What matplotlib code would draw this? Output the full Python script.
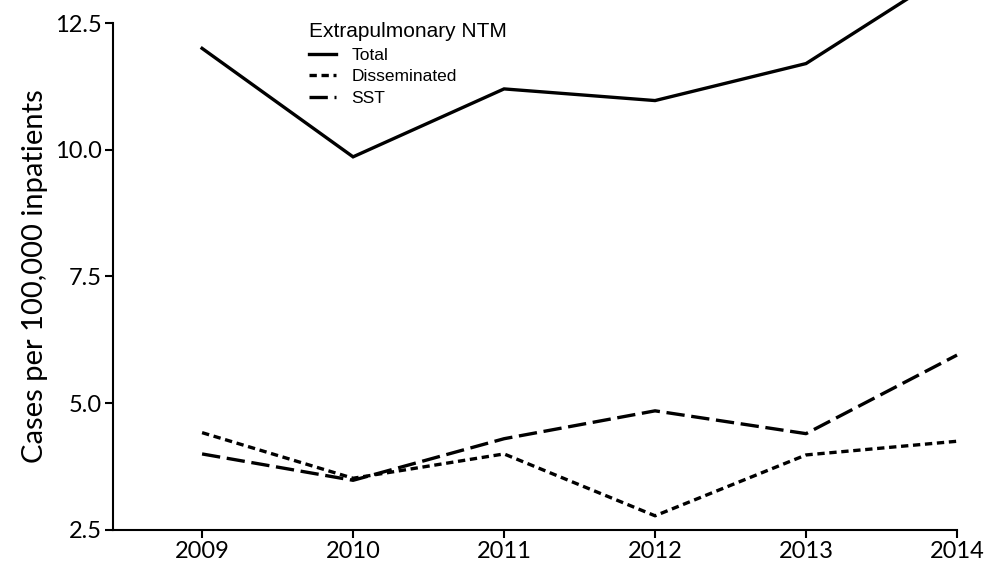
import matplotlib
matplotlib.use('Agg')
import matplotlib.pyplot as plt

# 数据
years = [2009, 2010, 2011, 2012, 2013, 2014]
total = [12.0, 9.86, 11.2, 10.97, 11.7, 13.6]
disseminated = [4.42, 3.52, 4.0, 2.78, 3.98, 4.25]
sst = [4.0, 3.48, 4.3, 4.85, 4.4, 5.95]
series_names = ['Total', 'Disseminated', 'SST']
legend_title = 'Extrapulmonary NTM'
y_ticks = [2.5, 5.0, 7.5, 10.0, 12.5]

tick_font = 'Lato'

fig = plt.figure(figsize=(9.86, 5.61), dpi=100)
ax = fig.add_axes([0.1146, 0.0553, 0.8560, 0.9037])

lw = 2.4
ax.plot(years, total, color='black', lw=lw, ls='-', label=series_names[0],
        clip_on=False, solid_joinstyle='miter')
ax.plot(years, disseminated, color='black', lw=lw, ls=(0, (2.2, 1.4)),
        label=series_names[1], clip_on=False)
ax.plot(years, sst, color='black', lw=lw, ls=(0, (5.5, 2.0)),
        label=series_names[2], clip_on=False)

ax.set_xlim(2008.41, 2014)
ax.set_ylim(2.5, 12.5)
ax.set_xticks(years)
ax.set_yticks(y_ticks)
ax.set_xticklabels([str(y) for y in years], fontsize=17, family=tick_font)
ax.set_yticklabels([f'{v:.1f}' for v in y_ticks], fontsize=17, family=tick_font)
ax.set_ylabel('Cases per 100,000 inpatients', fontsize=21, family=tick_font,
              labelpad=5)

for side in ['top', 'right']:
    ax.spines[side].set_visible(False)
for side in ['left', 'bottom']:
    ax.spines[side].set_linewidth(1.5)
ax.tick_params(axis='both', direction='out', length=6, width=1.5, pad=2)

leg = ax.legend(title=legend_title, loc='upper left',
                bbox_to_anchor=(0.313, 0.96), bbox_transform=fig.transFigure,
                frameon=False, borderpad=0, borderaxespad=0,
                prop={'family': 'Liberation Sans', 'size': 12.5},
                handlelength=1.55, handletextpad=0.9, labelspacing=0.36,
                alignment='left')
leg.get_title().set_fontfamily('Liberation Sans')
leg.get_title().set_fontsize(15)

fig.savefig('out.png', dpi=100)
